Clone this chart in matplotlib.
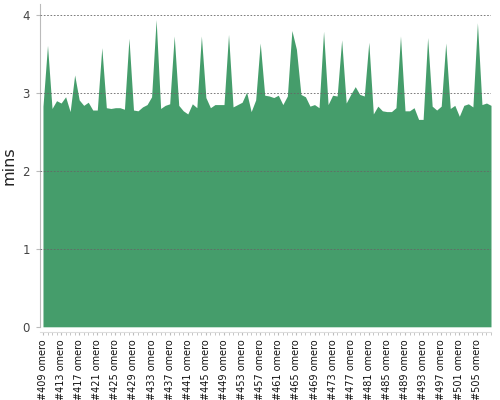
import numpy as np
import matplotlib
matplotlib.use("Agg")
import matplotlib.pyplot as plt

# build numbers and duration (minutes) per build
builds = list(range(409, 509))
mins = [2.83, 3.61, 2.80, 2.90, 2.87, 2.95, 2.76, 3.23, 2.91, 2.84,
        2.88, 2.78, 2.78, 3.58, 2.81, 2.80, 2.81, 2.81, 2.79, 3.70,
        2.78, 2.77, 2.82, 2.85, 2.95, 3.94, 2.80, 2.84, 2.86, 3.73,
        2.84, 2.77, 2.73, 2.86, 2.81, 3.73, 2.94, 2.81, 2.85, 2.85,
        2.85, 3.75, 2.82, 2.85, 2.88, 3.01, 2.76, 2.91, 3.64, 2.97,
        2.96, 2.94, 2.97, 2.85, 2.96, 3.80, 3.56, 2.98, 2.95, 2.83,
        2.85, 2.81, 3.79, 2.85, 2.97, 2.96, 3.68, 2.87, 2.98, 3.08,
        2.98, 2.96, 3.65, 2.73, 2.83, 2.77, 2.76, 2.76, 2.81, 3.73,
        2.77, 2.77, 2.81, 2.66, 2.66, 3.71, 2.83, 2.78, 2.83, 3.64,
        2.80, 2.84, 2.70, 2.84, 2.86, 2.82, 3.90, 2.85, 2.87, 2.84]
labels = ["#%d omero" % b for b in builds]
y_ticks = [0, 1, 2, 3, 4]

fig = plt.figure(figsize=(5, 4), dpi=100)
ax = fig.add_axes([0.079, 0.183, 0.903, 0.807])

x = np.arange(len(mins))
ax.fill_between(x, 0, mins, color="#459d6b", linewidth=0)

ax.set_xlim(-0.77, len(mins) - 1)
ax.set_ylim(0, 4.14)

ax.set_yticks(y_ticks)
ax.set_yticklabels([str(t) for t in y_ticks])
for t in y_ticks[1:]:
    ax.axhline(t, color="#666666", linestyle=(0, (2, 2)), linewidth=0.6, zorder=3)

ax.set_xticks(x, minor=True)
ax.set_xticks(x[::4])
ax.set_xticklabels(labels[::4])
ax.tick_params(axis="x", which="both", length=2, color="#bbbbbb", pad=3)
ax.tick_params(axis="x", which="major", labelrotation=90, labelsize=7,
               labelcolor="#111111")
ax.tick_params(axis="y", length=3, color="#bbbbbb", labelsize=8.5,
               labelcolor="#444444", pad=4)

for s in ["top", "right"]:
    ax.spines[s].set_visible(False)
ax.spines["left"].set_color("#bbbbbb")
ax.spines["bottom"].set_color("#dddddd")
ax.spines["bottom"].set_position(("outward", 4))

ax.set_ylabel("mins", fontsize=11.5, color="#222222", labelpad=4)

fig.savefig("out.png", dpi=100)
